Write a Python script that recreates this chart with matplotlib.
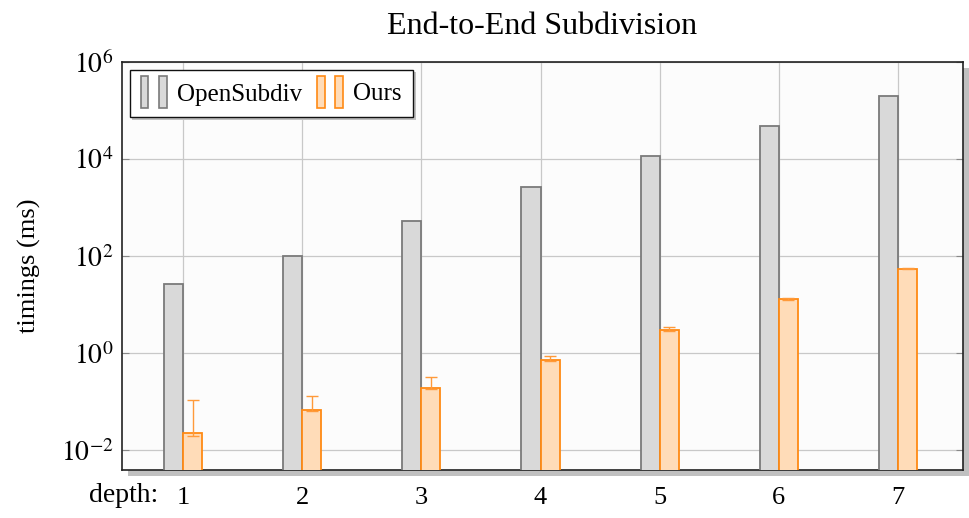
import matplotlib

matplotlib.use("Agg")
import matplotlib.pyplot as plt
import matplotlib.transforms as mtransforms
from matplotlib.legend_handler import HandlerBase
from matplotlib.patches import Rectangle

plt.rcParams["font.family"] = ["Liberation Serif", "DejaVu Serif"]
plt.rcParams["mathtext.fontset"] = "stix"

# ---------------------------------------------------------------- data
depths = [1, 2, 3, 4, 5, 6, 7]
opensubdiv = [26, 102, 537, 2680, 11500, 47500, 196000]
ours = [0.023, 0.068, 0.19, 0.72, 2.97, 12.8, 55]
ours_lo = [0.020, 0.065, 0.18, 0.70, 2.90, 12.5, 54]
ours_hi = [0.109, 0.131, 0.32, 0.87, 3.40, 13.5, 57]

GRAY_FC, GRAY_EC = "#d9d9d9", "#7a7a7a"
ORANGE_FC, ORANGE_EC = "#ffdcb8", "#ff8a14"
BW = 0.16


class TwoBars(HandlerBase):
    """pgfplots-style ybar legend: two little bars per entry."""

    def create_artists(self, legend, orig, xd, yd, w, h, fontsize, trans):
        p = orig.patches[0]
        bw = w * 0.28
        out = []
        for x0 in (0.0, w * 0.66):
            r = Rectangle((x0 - xd, -yd - h * 0.2), bw, h * 1.4,
                          facecolor=p.get_facecolor(),
                          edgecolor=p.get_edgecolor(), lw=1.2,
                          transform=trans)
            out.append(r)
        return out


fig = plt.figure(figsize=(9.69, 5.18), dpi=100)
fig.subplots_adjust(left=122 / 969, right=963 / 969, top=1 - 62 / 518,
                    bottom=1 - 470 / 518)
ax = fig.add_subplot(111)
ax.set_facecolor("#fcfcfc")

# drop shadow behind the axis box
shadow_tr = mtransforms.offset_copy(ax.transAxes, fig=fig, x=6, y=-6, units="dots")
fig.patches.append(Rectangle((0, 0), 1, 1, transform=shadow_tr,
                             facecolor="#c0c0c0", edgecolor="none", zorder=-5))

xg = [d - BW / 2 for d in depths]
xo = [d + BW / 2 for d in depths]
b1 = ax.bar(xg, opensubdiv, BW, color=GRAY_FC, edgecolor=GRAY_EC, lw=1.3,
            label="OpenSubdiv", zorder=3)
b2 = ax.bar(xo, ours, BW, color=ORANGE_FC, edgecolor=ORANGE_EC, lw=1.3,
            label="Ours", zorder=3)
err = [[o - lo for o, lo in zip(ours, ours_lo)],
       [hi - o for o, hi in zip(ours, ours_hi)]]
ax.errorbar(xo, ours, yerr=err, fmt="none", ecolor="#ff9a3a", elinewidth=1.0,
            capsize=4, capthick=1.0, zorder=4)

ax.set_yscale("log")
ax.set_ylim(10 ** -2.41, 1e6)
ax.set_xlim(0.488, 7.545)
ax.set_yticks([1e-2, 1e0, 1e2, 1e4, 1e6])
ax.set_yticklabels([r"$10^{-2}$", r"$10^{0}$", r"$10^{2}$", r"$10^{4}$", r"$10^{6}$"])
ax.minorticks_off()
ax.set_xticks(depths)
ax.grid(True, color="#c8c8c8", lw=0.9, zorder=0)
ax.set_axisbelow(True)
ax.tick_params(axis="y", direction="in", length=5, color="#888888",
               right=True, labelsize=20, pad=6)
ax.tick_params(axis="x", direction="out", length=0, labelsize=19, pad=12)
for s in ax.spines.values():
    s.set_color("#222222")
    s.set_linewidth(1.2)

ax.set_title("End-to-End Subdivision", fontsize=23, pad=20)
ax.set_ylabel("timings (ms)", fontsize=19, labelpad=14)
ax.text(0.043, -0.062, "depth:", transform=ax.transAxes, fontsize=20,
        ha="right", va="center")

ax.legend(handles=[b1, b2], loc="upper left", ncol=2, fontsize=18,
          handler_map={b1: TwoBars(), b2: TwoBars()},
          handlelength=1.1, handleheight=1.0, handletextpad=0.35,
          columnspacing=0.6, borderaxespad=0.3, borderpad=0.45,
          fancybox=False, framealpha=1, edgecolor="#111111",
          shadow={"facecolor": "#c0c0c0", "edgecolor": "none", "alpha": 1})

fig.savefig("out.png", dpi=100)
